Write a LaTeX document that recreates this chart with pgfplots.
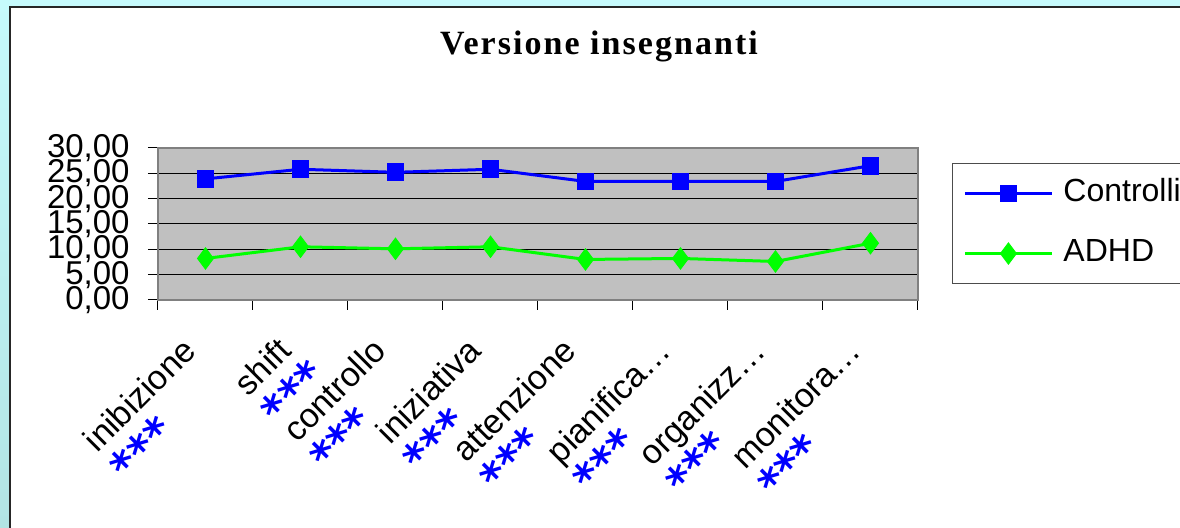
\documentclass[border=0pt]{standalone}
\usepackage{fontspec}
\setmainfont{Liberation Sans}
\newfontfamily\titlefont[LetterSpace=6]{Liberation Serif}
\newfontfamily\starfont{DejaVu Sans}
\usepackage{pgfplots}
\pgfplotsset{compat=1.18}

\definecolor{bgtop}{HTML}{C6FAFC}
\definecolor{bgbot}{HTML}{B2E4E4}
\definecolor{plotgray}{HTML}{C0C0C0}
\definecolor{framegray}{HTML}{808080}
\definecolor{ctrlblue}{HTML}{0000FF}
\definecolor{adhdgreen}{HTML}{00FF00}

% second line of each category label: the significance stars
\newcommand{\stars}{\rlap{\raisebox{-2pt}[0pt][0pt]{%
  \starfont\bfseries\fontsize{22}{22}\selectfont\textcolor{ctrlblue}{***}}}}

\begin{document}
\begin{tikzpicture}
\useasboundingbox (0,0) rectangle (590pt,264pt);
\shade[bottom color=bgbot, top color=bgtop] (0,0) rectangle (590pt,264pt);
\fill[white] (5pt,-5pt) rectangle (600pt,260.5pt);
\draw[line width=1pt, black!85] (5pt,-5pt) -- (5pt,260.5pt) -- (600pt,260.5pt);
\node[anchor=base, font=\titlefont\bfseries\fontsize{17}{20}\selectfont]
  at (299.5pt,236.5pt) {Versione insegnanti};

\begin{axis}[
  at={(79pt,114pt)}, anchor=south west,
  width=380pt, height=76pt, scale only axis,
  xmin=0.5, xmax=8.5, ymin=0, ymax=30,
  axis background/.style={fill=plotgray},
  axis line style={draw=framegray, line width=1pt},
  ytick={0,5,...,30},
  ymajorgrids, grid style={black, line width=0.5pt},
  xtick={1,...,8},
  minor xtick={0.5,1.5,...,8.5},
  xticklabels={
    {inibizione\\\stars}, {shift\\\stars}, {controllo\\\stars},
    {iniziativa\\\stars}, {attenzione\\\stars}, {pianifica…\\\stars},
    {organizz…\\\stars}, {monitora…\\\stars}},
  tick align=outside, xtick pos=bottom, ytick pos=left,
  major tick length=5pt, minor tick length=5pt,
  tick style={black, line width=0.5pt},
  major x tick style={draw=none},
  yticklabel style={font=\fontsize{16.5}{19}\selectfont, inner sep=0pt, xshift=-9pt},
  /pgf/number format/fixed, /pgf/number format/fixed zerofill,
  /pgf/number format/precision=2, /pgf/number format/use comma,
  /pgf/number format/assume math mode=true,
  xticklabel style={font=\fontsize{17}{20}\selectfont, align=left,
    inner sep=0pt, xshift=-12.5pt, yshift=-12.5pt, rotate=45, anchor=north east},
  legend style={at={(1.0447,0.901)}, anchor=north west, draw=black!70,
    line width=0.5pt, fill=white, font=\fontsize{16}{19}\selectfont,
    inner xsep=5.5pt, inner ysep=7.5pt, row sep=15pt, column sep=5pt,
    nodes={inner sep=0pt, text height=11.5pt, text depth=3.5pt}},
  legend cell align=left,
  legend image code/.code={
    \draw[mark repeat=2, mark phase=2, #1]
      plot coordinates {(0pt,0pt) (21.75pt,0pt) (43.5pt,0pt)};},
]
\addplot[color=ctrlblue, line width=1.5pt, mark=square*,
  mark size=4.2pt, mark options={line width=0.5pt}]
  coordinates {(1,23.9) (2,25.8) (3,25.2) (4,25.8)
               (5,23.4) (6,23.4) (7,23.4) (8,26.5)};
\addlegendentry{Controlli}
\addplot[color=adhdgreen, line width=1.5pt, mark=diamond*,
  mark size=5.3pt, mark options={line width=0.5pt}]
  coordinates {(1,8.2) (2,10.5) (3,10.1) (4,10.5)
               (5,8.0) (6,8.2) (7,7.6) (8,11.2)};
\addlegendentry{ADHD}
\end{axis}
\end{tikzpicture}
\end{document}
